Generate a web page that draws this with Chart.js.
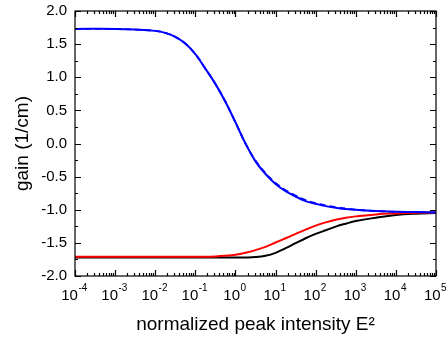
<!DOCTYPE html>
<html><head><meta charset="utf-8">
<script src="https://cdn.jsdelivr.net/npm/chart.js@4/dist/chart.umd.min.js"></script>
<style>html,body{margin:0;padding:0;background:#fff;}</style>
</head><body>
<canvas id="c" width="446" height="344"></canvas>
<script>
// normalized peak intensity E^2 (x values)
const intensity = [1e-4, 1e-3, 3.16e-3, 0.01, 0.0178, 0.0316, 0.0562, 0.1, 0.178, 0.316, 0.562, 1, 1.78, 3.16, 5.62, 10, 17.8, 31.6, 56.2, 100, 178, 316, 562, 1000, 3162, 1e4, 3.16e4, 1e5];
// gain (1/cm)
const gainBlue       = [1.73, 1.73, 1.72, 1.70, 1.67, 1.61, 1.51, 1.35, 1.13, 0.90, 0.63, 0.32, 0.00, -0.27, -0.46, -0.61, -0.72, -0.80, -0.87, -0.91, -0.945, -0.97, -0.99, -1.00, -1.02, -1.03, -1.035, -1.04];
const gainBlueDashed = [1.73, 1.73, 1.72, 1.70, 1.67, 1.61, 1.51, 1.35, 1.13, 0.90, 0.63, 0.32, 0.00, -0.255, -0.445, -0.595, -0.705, -0.785, -0.855, -0.90, -0.935, -0.96, -0.98, -1.00, -1.02, -1.03, -1.035, -1.04];
const gainRed        = [-1.71, -1.71, -1.71, -1.71, -1.71, -1.71, -1.71, -1.71, -1.71, -1.705, -1.695, -1.68, -1.65, -1.61, -1.56, -1.495, -1.43, -1.365, -1.30, -1.24, -1.19, -1.15, -1.12, -1.10, -1.07, -1.055, -1.045, -1.04];
const gainBlack      = [-1.72, -1.72, -1.72, -1.72, -1.72, -1.72, -1.72, -1.72, -1.72, -1.72, -1.72, -1.72, -1.72, -1.715, -1.695, -1.65, -1.58, -1.505, -1.43, -1.365, -1.31, -1.255, -1.21, -1.17, -1.12, -1.08, -1.06, -1.05];

const xTickValues = [1e-4, 1e-3, 1e-2, 1e-1, 1, 10, 100, 1000, 1e4, 1e5];
const xTickBase = '10';
const xTickExponents = ['-4', '-3', '-2', '-1', '0', '1', '2', '3', '4', '5'];
const yTickValues = [-2, -1.5, -1, -0.5, 0, 0.5, 1, 1.5, 2];
const yTickLabels = ['-2.0', '-1.5', '-1.0', '-0.5', '0.0', '0.5', '1.0', '1.5', '2.0'];
const xTitle = 'normalized peak intensity E²';
const yTitle = 'gain (1/cm)';

const FONT = 'Arial, "Liberation Sans", sans-serif';
const toPts = (ys) => intensity.map((x, i) => ({x: x, y: ys[i]}));

const frameTicks = {
  id: 'frameTicks',
  afterDatasetsDraw(chart) {
    const {ctx, chartArea: {left, right, top, bottom}, scales: {x, y}} = chart;
    ctx.save();
    ctx.strokeStyle = '#000';
    ctx.lineWidth = 1.2;
    ctx.strokeRect(left, top, right - left, bottom - top);
    ctx.beginPath();
    const maj = 6, mnr = 3;
    xTickValues.forEach((v, i) => {
      const px = Math.round(x.getPixelForValue(v)) + 0.5;
      ctx.moveTo(px, bottom); ctx.lineTo(px, bottom - maj);
      ctx.moveTo(px, top); ctx.lineTo(px, top + maj);
      if (i < xTickValues.length - 1) {
        for (let k = 2; k <= 9; k++) {
          const mx = Math.round(x.getPixelForValue(v * k)) + 0.5;
          ctx.moveTo(mx, bottom); ctx.lineTo(mx, bottom - mnr);
          ctx.moveTo(mx, top); ctx.lineTo(mx, top + mnr);
        }
      }
    });
    yTickValues.forEach((v, i) => {
      const py = Math.round(y.getPixelForValue(v)) + 0.5;
      ctx.moveTo(left, py); ctx.lineTo(left + maj, py);
      ctx.moveTo(right, py); ctx.lineTo(right - maj, py);
      if (i < yTickValues.length - 1) {
        const my = Math.round(y.getPixelForValue(v + 0.25)) + 0.5;
        ctx.moveTo(left, my); ctx.lineTo(left + mnr, my);
        ctx.moveTo(right, my); ctx.lineTo(right - mnr, my);
      }
    });
    ctx.stroke();
    ctx.fillStyle = '#000';
    ctx.textBaseline = 'alphabetic';
    ctx.textAlign = 'left';
    xTickValues.forEach((v, i) => {
      const px = x.getPixelForValue(v);
      ctx.font = '15px ' + FONT;
      const w1 = ctx.measureText(xTickBase).width;
      ctx.font = '10px ' + FONT;
      const w2 = ctx.measureText(xTickExponents[i]).width;
      const sx = px - (w1 + w2) / 2 - 1;
      const by = bottom + 24;
      ctx.font = '15px ' + FONT;
      ctx.fillText(xTickBase, sx, by);
      ctx.font = '10px ' + FONT;
      ctx.fillText(xTickExponents[i], sx + w1 + 0.5, by - 9);
    });
    ctx.restore();
  }
};

new Chart(document.getElementById('c'), {
  type: 'line',
  data: {
    datasets: [
      {data: toPts(gainBlueDashed), borderColor: '#0000ff', borderWidth: 1.8, borderDash: [6, 4]},
      {data: toPts(gainBlue), borderColor: '#0000ff', borderWidth: 2},
      {data: toPts(gainRed), borderColor: '#ff0000', borderWidth: 2},
      {data: toPts(gainBlack), borderColor: '#000000', borderWidth: 2}
    ]
  },
  options: {
    responsive: false,
    animation: false,
    devicePixelRatio: 1,
    parsing: false,
    elements: {point: {radius: 0}, line: {tension: 0.4, fill: false}},
    layout: {padding: {top: 11, right: 10, left: 0, bottom: 0}},
    plugins: {legend: {display: false}, tooltip: {enabled: false}},
    scales: {
      x: {
        type: 'logarithmic', min: 1e-4, max: 1e5,
        grid: {display: false, drawTicks: false},
        border: {display: false},
        ticks: {display: false},
        afterBuildTicks: (s) => { s.ticks = xTickValues.map(v => ({value: v})); },
        afterFit: (s) => { s.height = 68; s.paddingLeft = 0; s.paddingRight = 0; },
        title: {display: true, text: xTitle, color: '#000', font: {size: 19, family: FONT}, padding: {top: 0, bottom: 8}}
      },
      y: {
        type: 'linear', min: -2, max: 2,
        grid: {display: false, drawTicks: false},
        border: {display: false},
        afterBuildTicks: (s) => { s.ticks = yTickValues.map(v => ({value: v})); },
        afterFit: (s) => { s.width = 75; s.paddingTop = 0; s.paddingBottom = 0; },
        ticks: {
          color: '#000', padding: 8,
          font: {size: 15, family: FONT},
          callback: (v, i) => yTickLabels[i]
        },
        title: {display: true, text: yTitle, color: '#000', font: {size: 19, family: FONT}, padding: {top: 11, bottom: 0}}
      }
    }
  },
  plugins: [frameTicks]
});
</script>
</body></html>
